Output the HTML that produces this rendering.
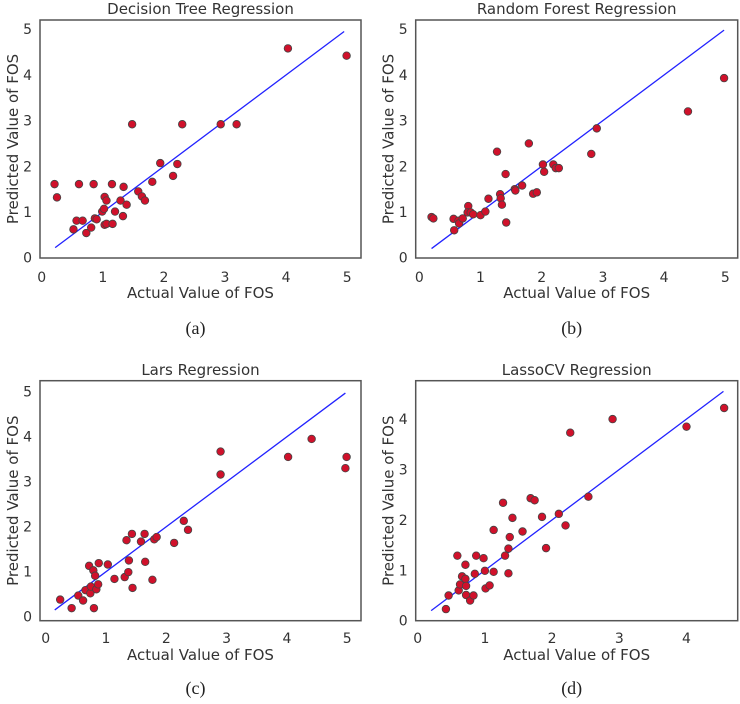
<!DOCTYPE html>
<html><head><meta charset="utf-8"><style>
body{margin:0;background:#fff;}
svg{display:block;font-family:"DejaVu Sans","Liberation Sans",sans-serif;}
</style></head><body>
<svg id="fig" width="740" height="704" viewBox="0 0 740 704"></svg>
<script>
// Panel data (actual, predicted)
const dtActual=[0.21,0.25,0.61,0.57,0.67,0.52,0.73,0.81,0.85,0.87,0.9,0.99,1.02,1.03,1.06,1.03,1.06,1.15,1.16,1.2,1.29,1.34,1.33,1.39,1.48,1.58,1.64,1.69,1.81,1.94,2.15,2.22,2.3,2.93,3.19,4.03,4.99];
const dtPred=[1.61,1.32,1.61,0.81,0.81,0.62,0.54,0.66,1.61,0.86,0.84,1.01,1.07,1.33,1.25,0.72,0.74,1.61,0.74,1.01,1.25,1.55,0.91,1.16,2.92,1.45,1.34,1.25,1.66,2.07,1.79,2.05,2.92,2.92,2.92,4.58,4.42];
const rfActual=[0.2,0.23,0.56,0.57,0.64,0.65,0.71,0.8,0.79,0.84,0.88,1.0,1.08,1.13,1.27,1.32,1.33,1.35,1.41,1.42,1.56,1.57,1.68,1.79,1.86,1.92,2.02,2.04,2.19,2.23,2.28,2.81,2.9,4.39,4.98];
const rfPred=[0.89,0.86,0.85,0.6,0.81,0.75,0.86,1.13,0.99,0.99,0.95,0.93,1.01,1.29,2.32,1.39,1.3,1.16,1.83,0.77,1.5,1.47,1.58,2.5,1.4,1.43,2.04,1.88,2.04,1.96,1.96,2.27,2.83,3.2,3.93];
const larsActual=[0.24,0.43,0.54,0.62,0.66,0.74,0.75,0.72,0.79,0.8,0.82,0.84,0.87,0.88,1.03,1.14,1.31,1.37,1.34,1.38,1.43,1.44,1.58,1.64,1.65,1.77,1.8,1.84,2.13,2.29,2.36,2.9,2.9,4.02,4.41,4.97,4.99];
const larsPred=[0.38,0.19,0.47,0.36,0.59,0.52,0.67,1.13,1.03,0.19,0.91,0.61,0.72,1.19,1.16,0.84,0.88,0.99,1.7,1.25,1.84,0.64,1.67,1.84,1.22,0.82,1.72,1.77,1.64,2.13,1.93,3.16,3.67,3.55,3.95,3.3,3.55];
const lassoActual=[0.42,0.46,0.59,0.61,0.63,0.66,0.71,0.71,0.72,0.72,0.78,0.83,0.85,0.87,0.98,1.0,1.01,1.07,1.13,1.13,1.27,1.3,1.35,1.35,1.37,1.41,1.56,1.68,1.74,1.85,1.91,2.1,2.2,2.27,2.54,2.9,4.0,4.56];
const lassoPred=[0.23,0.5,1.29,0.6,0.72,0.88,1.11,0.83,0.69,0.51,0.4,0.5,0.93,1.29,1.24,0.99,0.64,0.7,0.97,1.8,2.34,1.29,1.43,0.94,1.66,2.04,1.77,2.43,2.39,2.06,1.44,2.12,1.89,3.73,2.46,4.0,3.85,4.22];
const xTicksA=[0,1,2,3,4,5];
const yTicksA=[0,1,2,3,4,5];
const xTicksD=[0,1,2,3,4];
const yTicksD=[0,1,2,3,4];

const NS="http://www.w3.org/2000/svg";
const svg=document.getElementById('fig');
function mk(tag,attrs,parent,text){const e=document.createElementNS(NS,tag);for(const k in attrs)e.setAttribute(k,attrs[k]);if(text!==undefined)e.textContent=text;(parent||svg).appendChild(e);return e;}

const panels=[
 {key:'a',title:'Decision Tree Regression',xs:dtActual,ys:dtPred,box:[40,20,361,258],x0:41.7,kx:61.1,y0:257.7,ky:45.7,xt:xTicksA,yt:yTicksA,line:[0.22,4.95],tickY:282,labY:298,titY:14,capY:334},
 {key:'b',title:'Random Forest Regression',xs:rfActual,ys:rfPred,box:[415.7,20,737.7,258],x0:419.3,kx:61.2,y0:257.7,ky:45.7,xt:xTicksA,yt:yTicksA,line:[0.2,4.98],tickY:282,labY:298,titY:14,capY:334},
 {key:'c',title:'Lars Regression',xs:larsActual,ys:larsPred,box:[40,380.7,361,620.7],x0:45.7,kx:60.3,y0:616.7,ky:45,xt:xTicksA,yt:yTicksA,line:[0.15,4.97],tickY:643,labY:660,titY:375,capY:694},
 {key:'d',title:'LassoCV Regression',xs:lassoActual,ys:lassoPred,box:[415.7,380.7,737.7,620.7],x0:417.7,kx:67.2,y0:620.7,ky:50.4,xt:xTicksD,yt:yTicksD,line:[0.2,4.55],tickY:643,labY:660,titY:375,capY:694}
];

panels.forEach(p=>{
 const g=mk('g',{});
 
 
 const X=v=>p.x0+v*p.kx, Y=v=>p.y0-v*p.ky;
 const [l,t,r,b]=p.box;
 const cx=(l+r)/2, cy=(t+b)/2;
 const tt=mk('text',{x:cx,y:p.titY,'text-anchor':'middle','font-size':15,fill:'#333'},g,p.title);
 
 
 const fr=mk('rect',{x:l,y:t,width:r-l,height:b-t,fill:'none',stroke:'#555','stroke-width':1.5},g);
 
 
 p.xt.forEach(v=>{const e=mk('text',{x:X(v),y:p.tickY,'text-anchor':'middle','font-size':14,fill:'#333'},g,String(v));
  
  });
 p.yt.forEach(v=>{const e=mk('text',{x:l-8,y:Y(v)+5,'text-anchor':'end','font-size':14,fill:'#333'},g,String(v));
  
  });
 const xl=mk('text',{x:cx,y:p.labY,'text-anchor':'middle','font-size':15,fill:'#333'},g,'Actual Value of FOS');
 
 
 const yl=mk('text',{x:0,y:0,'text-anchor':'middle','font-size':15,fill:'#333',transform:`translate(${l-22},${cy}) rotate(-90)`},g,'Predicted Value of FOS');
 
 
 const ln=mk('line',{x1:X(p.line[0]),y1:Y(p.line[0]),x2:X(p.line[1]),y2:Y(p.line[1]),stroke:'#2222ff','stroke-width':1.3},g);
 
 
 p.xs.forEach((v,i)=>{const c=mk('circle',{cx:X(v),cy:Y(p.ys[i]),r:3.8,fill:'#d0112b',stroke:'#444','stroke-width':0.8},g);
  
  });
 const cap=mk('text',{x:cx-5,y:p.capY,'text-anchor':'middle','font-size':18,fill:'#222','font-family':'"Liberation Serif",serif'},g,'('+p.key+')');
 
 
});
</script>
</body></html>
